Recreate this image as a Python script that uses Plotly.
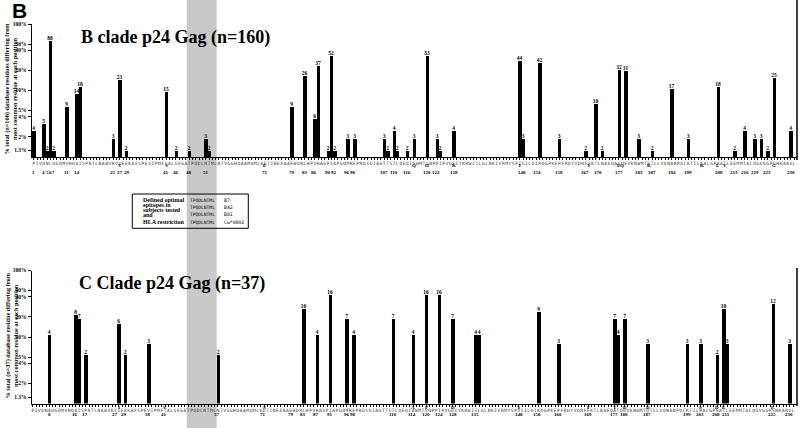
import plotly.graph_objects as go

# p24 consensus sequences (one letter per residue, 231 residues)
b_seq = ("PIVQNLQGQMVHQAISPRTLNAWVKVVEEKAFSPEVIPMFSALSEGATPQDLNTMLNTVGGHQAAMQMLK"
         "ETINEEAAEWDRLHPVHAGPIAPGQMREPRGSDIAGTTSTLQEQIGWMTSNPPIPVGEIYKRWIILGLNK"
         "IVRMYSPTSILDIRQGPKEPFRDYVDRFYKTLRAEQASQEVKNWMTETLLVQNANPDCKTILKALGPAAT"
         "LEEMMTACQGVGGPGHKARVL")
c_seq = ("PIVQNAQGQMVHQAISPRTLNAWVKVIEEKAFSPEVIPMFTALSEGATPQDLNTMLNTVGGHQAAMQMLK"
         "DTINEEAAEWDRLHPVHAGPIAPGQMREPRGSDIAGTTSTLQEQIAWMTSNPPIPVGDIYKRWIILGLNK"
         "IVRMYSPVSILDIKQGPKEPFRDYVDRFFKTLRAEQATQDVKNWMTDTLLVQNANPDCKTILRALGPGAT"
         "LEEMMTACQGVGGPSHKARVL")

# B clade: residue slot and number of sequences differing (n=160)
b_n = 160
b_pos = [1, 4, 5, 6, 7, 11, 14, 15, 25, 27, 29, 41, 44, 48, 53, 54, 79, 83, 86, 87,
         90, 91, 92, 96, 98, 107, 108, 110, 111, 114, 116, 120, 123, 124, 128, 148,
         149, 154, 160, 168, 171, 173, 178, 180, 184, 188, 194, 199, 208, 213, 216,
         219, 221, 223, 225, 230]
b_cnt = [4, 5, 2, 88, 2, 9, 14, 18, 3, 23, 2, 15, 2, 2, 3, 2, 9, 26, 6, 37,
         2, 52, 2, 3, 3, 3, 2, 4, 2, 2, 3, 53, 3, 2, 4, 44,
         3, 42, 3, 2, 10, 2, 32, 31, 3, 2, 17, 3, 18, 2, 4,
         3, 3, 2, 25, 4]

# C clade (n=37)
c_n = 37
c_pos = [6, 14, 15, 17, 27, 29, 36, 57, 83, 87, 91, 96, 98, 110, 116, 120, 124, 128,
         135, 136, 154, 160, 177, 178, 180, 187, 199, 203, 208, 210, 211, 225, 230]
c_cnt = [4, 8, 7, 2, 6, 2, 3, 2, 10, 4, 16, 7, 4, 7, 4, 16, 16, 7,
         4, 4, 9, 3, 7, 4, 7, 3, 3, 3, 2, 10, 3, 12, 3]

# position numbers printed under each axis
b_num_txt = ["1", "4", "5", "6", "7", "11", "14", "25", "27", "29", "41", "46", "48", "51",
             "71", "79", "83", "86", "90", "92", "96", "98", "107", "110", "116", "120",
             "122", "128", "148", "154", "158", "167", "170", "177", "183", "187", "194",
             "199", "208", "213", "216", "219", "223", "230"]
b_num_at = [1, 4, 5, 6, 7, 11, 14, 25, 27.2, 29.2, 41, 44, 48, 53, 71, 79, 83, 85.7, 89.9,
            91.8, 95.6, 97.6, 107, 110, 114, 120, 122.8, 128, 148.6, 153.3, 159.9, 167.7,
            171.7, 178, 184, 188, 194, 199, 208.2, 212.9, 216, 219.2, 222.9, 230]
c_num_txt = ["8", "16", "17", "27", "29", "38", "41", "57", "71", "79", "83", "87", "91",
             "96", "98", "110", "114", "120", "124", "128", "135", "148", "156", "160",
             "169", "177", "180", "187", "199", "203", "208", "211", "225", "230"]
c_num_at = [6, 13.8, 16.8, 25.9, 28.6, 35.8, 40.7, 56.6, 70.6, 79.1, 82.6, 86.7, 90.9, 96,
            97.9, 109.8, 115.7, 119.9, 123.9, 128, 134.8, 148, 153.5, 159.9, 168.8, 176.8,
            179.8, 186.8, 198.9, 202.8, 207.7, 210.8, 224.7, 229.7]

# variant residues printed under the sequence
b_var_txt = ["V", "S", "E", "Q", "H", "K", "T", "Y", "E", "Q", "R", "K", "L", "V", "G"]
b_var_at = [27, 41, 71, 116, 120, 128, 148, 169, 178, 179, 187, 203, 208, 210, 225]
c_var_txt = ["I", "V", "S", "A", "P", "D", "Y", "F", "T", "D", "D", "S", "D", "E", "E"]
c_var_at = [27, 41, 71, 116, 120, 128, 148, 169, 177, 180, 187, 203, 208, 210, 225]

ytick_vals = [1.25, 2, 4, 5, 10, 20, 40, 50, 100]
ytick_txt = ["1.3%", "2%", "4%", "5%", "10%", "20%", "40%", "50%", "100%"]

serif = "Liberation Serif"
W, H = 800, 428


def py(y):
    return 1 - y / H


fig = go.Figure()
fig.add_trace(go.Bar(
    x=b_pos, y=[c / b_n * 100 for c in b_cnt], text=b_cnt,
    textposition="outside", constraintext="none", cliponaxis=False,
    textfont=dict(family=serif, size=5.5, color="black", weight="bold"),
    marker=dict(color="black", line=dict(width=0)), width=1.05,
    xaxis="x", yaxis="y", showlegend=False, hoverinfo="skip",
))
fig.add_trace(go.Bar(
    x=c_pos, y=[c / c_n * 100 for c in c_cnt], text=c_cnt,
    textposition="outside", constraintext="none", cliponaxis=False,
    textfont=dict(family=serif, size=5.5, color="black", weight="bold"),
    marker=dict(color="black", line=dict(width=0)), width=1.05,
    xaxis="x2", yaxis="y2", showlegend=False, hoverinfo="skip",
))

xax = dict(
    showline=True, linecolor="black", linewidth=1, showgrid=False, zeroline=False,
    ticks="outside", ticklen=2, tickwidth=0.6, tickcolor="black", tickangle=0,
    tickvals=list(range(1, 232)), automargin=False,
    tickfont=dict(family="DejaVu Sans Mono", size=4.5, color="#333"),
)
yax = dict(
    type="log", range=[0, 2], showline=True, linecolor="black", linewidth=1,
    showgrid=False, zeroline=False, ticks="outside", ticklen=3, tickcolor="black",
    tickvals=ytick_vals, ticktext=ytick_txt, automargin=False,
    tickfont=dict(family=serif, size=5.5, color="black", weight="bold"),
)

fig.update_layout(
    width=W, height=H, margin=dict(l=0, r=0, t=0, b=0, pad=0),
    paper_bgcolor="white", plot_bgcolor="rgba(0,0,0,0)", bargap=0,
    xaxis=dict(xax, domain=[31.7 / W, 797 / W], range=[0.365, 231.86],
               ticktext=list(b_seq), anchor="y"),
    yaxis=dict(yax, domain=[py(157), py(24)], anchor="x"),
    xaxis2=dict(xax, domain=[31.7 / W, 797 / W], range=[0.666, 232.15],
                ticktext=list(c_seq), anchor="y2"),
    yaxis2=dict(yax, domain=[py(403.5), py(270.5)], anchor="x2"),
)

# shaded epitope column and the epitope box
fig.add_shape(type="rect", xref="paper", yref="paper", x0=186.7 / W, x1=216.7 / W,
              y0=0, y1=1, fillcolor="#c9c9c9", line_width=0, layer="below")
fig.add_shape(type="rect", xref="paper", yref="paper", x0=132.3 / W, x1=248.3 / W,
              y0=py(228.3), y1=py(194), line=dict(color="black", width=1))
for y0, y1 in [(0, 160), (268, 406)]:
    fig.add_shape(type="line", xref="paper", yref="paper", x0=797 / W, x1=797 / W,
                  y0=py(y1), y1=py(y0), line=dict(color="black", width=1.5))

ann = []
ann.append(dict(text="<b>B</b>", x=19 / W, y=py(11), font=dict(family="Liberation Sans", size=21)))
ann.append(dict(text="<b>B clade p24 Gag (n=160)</b>", x=175 / W, y=py(38),
                font=dict(family=serif, size=18)))
ann.append(dict(text="<b>C Clade p24 Gag (n=37)</b>", x=172 / W, y=py(283),
                font=dict(family=serif, size=18)))
ann.append(dict(text="<b>% total (n=160) database residues differing from<br>"
                     "most common residue at each position</b>",
                x=10.5 / W, y=py(89), textangle=-90, font=dict(family=serif, size=6.3)))
ann.append(dict(text="<b>% total (n=37) database residue differing from<br>"
                     "most common residue at each position</b>",
                x=10.5 / W, y=py(336), textangle=-90, font=dict(family=serif, size=6.3)))
for a in ann:
    a.update(xref="paper", yref="paper", showarrow=False, xanchor="center",
             yanchor="middle")
    a["font"]["color"] = "black"
    fig.add_annotation(**a)

small = dict(family=serif, size=5, color="black", weight="bold")
for t, x in zip(b_num_txt, b_num_at):
    fig.add_annotation(text=t, x=x, xref="x", y=py(172.7), yref="paper",
                       showarrow=False, font=small)
for t, x in zip(c_num_txt, c_num_at):
    fig.add_annotation(text=t, x=x, xref="x2", y=py(419), yref="paper",
                       showarrow=False, font=small)
for t, x in zip(b_var_txt, b_var_at):
    fig.add_annotation(text=t, x=x, xref="x", y=py(165), yref="paper",
                       showarrow=False, font=small)
for t, x in zip(c_var_txt, c_var_at):
    fig.add_annotation(text=t, x=x, xref="x2", y=py(412), yref="paper",
                       showarrow=False, font=small)

# epitope box text
box_left = ["Defined optimal", "epitopes in", "subjects tested", "and", "HLA restriction"]
box_left_y = [200, 205, 210, 215, 222.3]
epi_rows = ["TPQDLNTML", "TPQDLNTML", "TPQDLNTML", "TPQDLNTML"]
hla_rows = ["B7", "B42", "B81", "Cw*0802"]
epi_y = [200.7, 207.7, 214.3, 222.3]
for t, y in zip(box_left, box_left_y):
    fig.add_annotation(text=t, x=140.7 / W, y=py(y), xref="paper", yref="paper",
                       xanchor="left", showarrow=False,
                       font=dict(family=serif, size=6, color="black", weight="bold"))
for e, h, y in zip(epi_rows, hla_rows, epi_y):
    fig.add_annotation(text=e, x=188 / W, y=py(y), xref="paper", yref="paper",
                       xanchor="left", showarrow=False,
                       font=dict(family="DejaVu Sans Mono", size=4.6, color="black"))
    fig.add_annotation(text=h, x=222 / W, y=py(y), xref="paper", yref="paper",
                       xanchor="left", showarrow=False,
                       font=dict(family="DejaVu Sans Mono", size=4.8, color="black"))

# page body has a default 8px margin; drop it so the figure fills the window
fig.write_html("out.html", config={"displayModeBar": False},
               post_script="document.body.style.margin='0px';")
